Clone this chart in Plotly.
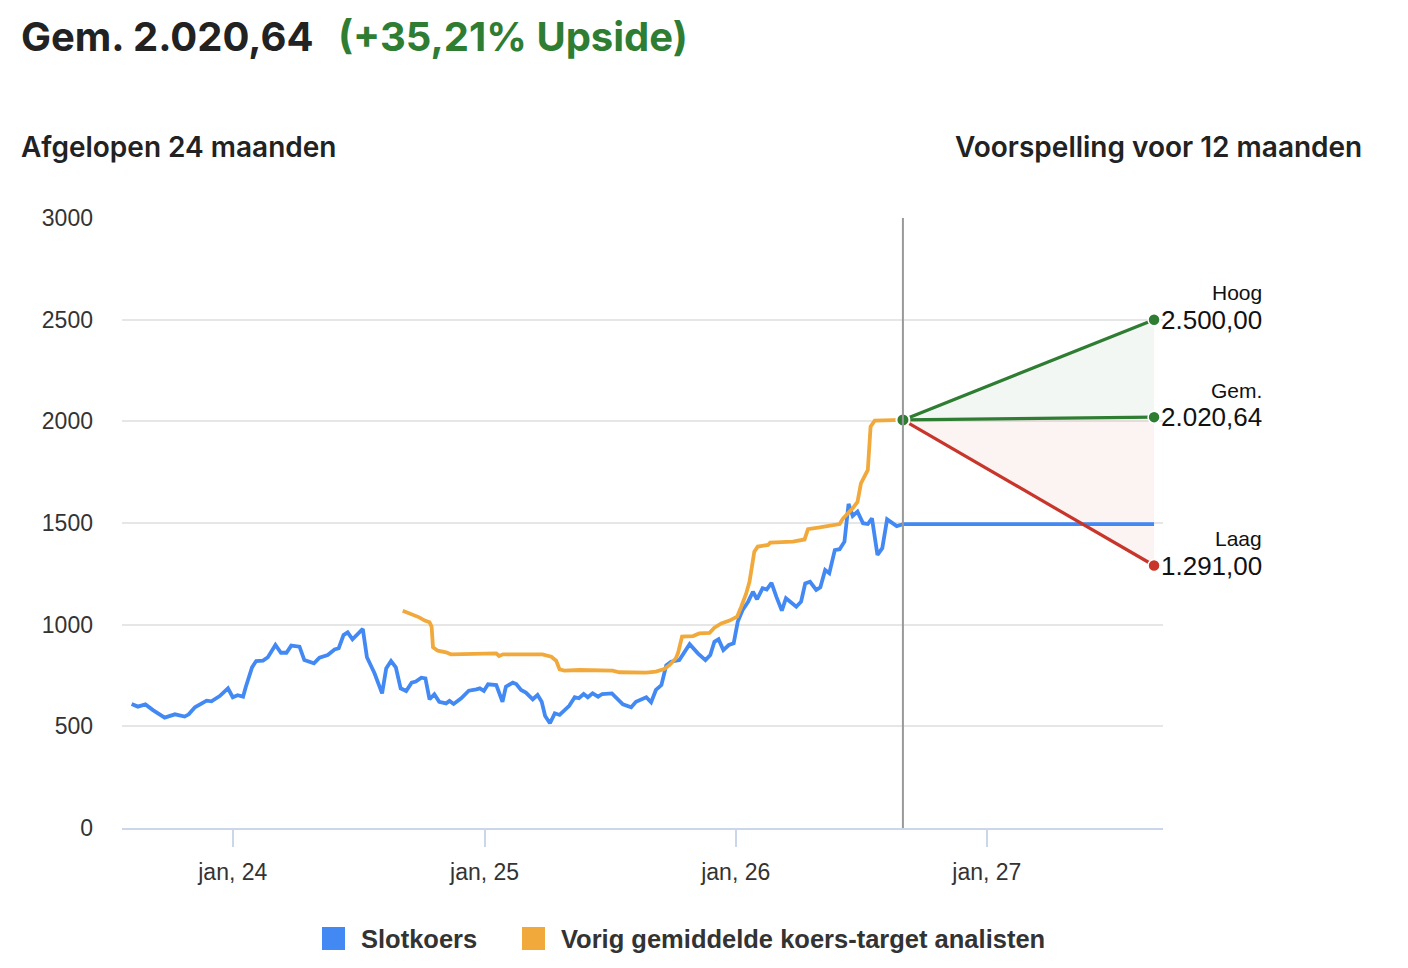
import plotly.graph_objects as go

# closing price (Slotkoers)
close_dates = [
    "2023-08-07", "2023-08-16", "2023-08-27", "2023-09-07", "2023-09-24", "2023-10-09", "2023-10-23",
    "2023-10-29", "2023-11-07", "2023-11-24", "2023-12-01", "2023-12-13", "2023-12-25",
    "2024-01-01", "2024-01-08", "2024-01-16", "2024-01-20", "2024-01-29", "2024-02-04", "2024-02-14",
    "2024-02-21", "2024-03-03", "2024-03-11", "2024-03-19", "2024-03-26", "2024-04-07", "2024-04-14",
    "2024-04-28", "2024-05-06", "2024-05-18", "2024-05-28", "2024-06-03", "2024-06-10", "2024-06-16",
    "2024-06-23", "2024-07-08", "2024-07-14", "2024-07-25", "2024-08-05", "2024-08-11", "2024-08-18",
    "2024-08-25", "2024-09-01", "2024-09-09", "2024-09-17", "2024-09-23", "2024-10-01", "2024-10-07",
    "2024-10-13", "2024-10-20", "2024-10-27", "2024-11-06", "2024-11-11", "2024-11-17", "2024-11-28",
    "2024-12-09", "2024-12-20", "2024-12-25", "2024-12-31",
    "2025-01-06", "2025-01-18", "2025-01-27", "2025-02-01", "2025-02-11", "2025-02-16", "2025-02-23",
    "2025-03-02", "2025-03-12", "2025-03-19", "2025-03-25", "2025-03-30", "2025-04-06", "2025-04-13",
    "2025-04-20", "2025-05-04", "2025-05-12", "2025-05-18", "2025-05-25", "2025-05-31", "2025-06-07",
    "2025-06-15", "2025-06-21", "2025-07-05", "2025-07-12", "2025-07-21", "2025-08-02", "2025-08-09",
    "2025-08-24", "2025-08-31", "2025-09-07", "2025-09-15", "2025-09-22", "2025-09-29", "2025-10-11",
    "2025-10-19", "2025-10-26", "2025-11-07", "2025-11-18", "2025-11-25", "2025-12-01", "2025-12-07",
    "2025-12-14", "2025-12-22", "2025-12-29",
    "2026-01-04", "2026-01-11", "2026-01-19", "2026-01-26", "2026-02-01", "2026-02-09", "2026-02-15",
    "2026-02-22", "2026-03-01", "2026-03-09", "2026-03-15", "2026-03-23", "2026-03-30", "2026-04-06",
    "2026-04-12", "2026-04-19", "2026-04-28", "2026-05-04", "2026-05-11", "2026-05-17", "2026-05-25",
    "2026-06-01", "2026-06-08", "2026-06-14", "2026-06-20", "2026-06-27", "2026-07-05", "2026-07-12",
    "2026-07-18", "2026-07-26", "2026-08-02", "2026-08-09", "2026-08-15", "2026-08-23", "2026-09-01",
]
close_values = [
    610, 597, 608, 580, 543, 559, 548, 559, 594, 626, 623, 649, 687,
    643, 653, 646, 695, 790, 821, 823, 840, 900, 862, 862, 897, 892, 826, 810, 838, 851, 878, 884,
    949, 962, 928, 979, 840, 761, 662, 785, 821, 790, 687, 674, 715, 720, 739, 736, 633, 658, 621,
    613, 625, 610, 638, 675, 682, 687, 674,
    707, 703, 621, 695, 715, 708, 679, 666, 633, 654, 621, 551, 515, 564, 556, 601, 643, 638, 659,
    643, 662, 646, 659, 662, 638, 608, 594, 621, 643, 618, 679, 703, 800, 818, 826, 867, 904, 859,
    826, 851, 916, 928, 875, 900, 908,
    1015, 1072, 1113, 1162, 1125, 1179, 1173, 1206, 1138, 1069, 1130, 1105, 1088, 1113, 1203, 1211,
    1171, 1184, 1269, 1253, 1367, 1371, 1408, 1594, 1535, 1556, 1499, 1495, 1523, 1343, 1376, 1518,
    1502, 1485, 1494,
]

# previous average analyst target
target_dates = [
    "2024-09-04", "2024-09-14", "2024-09-21", "2024-09-28", "2024-10-06", "2024-10-13", "2024-10-16",
    "2024-10-18", "2024-10-25", "2024-11-06", "2024-11-13", "2024-12-20", "2025-01-18", "2025-01-22",
    "2025-01-28", "2025-03-26", "2025-04-08", "2025-04-15", "2025-04-20", "2025-04-27", "2025-05-19",
    "2025-07-06", "2025-07-16", "2025-08-24", "2025-09-07", "2025-09-19", "2025-09-27", "2025-10-06",
    "2025-10-09", "2025-10-15", "2025-10-31", "2025-11-09", "2025-11-24", "2025-12-01", "2025-12-11",
    "2025-12-23", "2026-01-03", "2026-01-09", "2026-01-16", "2026-01-21", "2026-01-28", "2026-02-02",
    "2026-02-17", "2026-02-20", "2026-03-25", "2026-04-11", "2026-04-16", "2026-05-03", "2026-05-20",
    "2026-06-01", "2026-06-06", "2026-06-20", "2026-06-27", "2026-07-02", "2026-07-12", "2026-07-16",
    "2026-07-22", "2026-08-20", "2026-09-01",
]
target_values = [
    1069, 1056, 1043, 1036, 1020, 1012, 990, 889, 872, 864, 854, 856, 859, 846, 854, 854, 842, 823,
    780, 774, 777, 774, 766, 764, 769, 782, 802, 835, 859, 941, 944, 957, 960, 985, 1006, 1020, 1039,
    1088, 1151, 1211, 1359, 1384, 1392, 1403, 1408, 1419, 1470, 1478, 1486, 1495, 1523, 1572, 1604,
    1695, 1761, 1974, 2003, 2007, 2007,
]

# 12 month forecast
forecast_dates = ["2026-09-01", "2027-09-01"]
forecast_start = 2007
forecast_names = ["Hoog", "Gem.", "Laag"]
forecast_ends = [2500.00, 2020.64, 1291.00]
last_close = 1494

tick_dates = ["2024-01-01", "2025-01-01", "2026-01-01", "2027-01-01"]
tick_labels = ["jan, 24", "jan, 25", "jan, 26", "jan, 27"]

BLUE = "#4289f4"
ORANGE = "#f2a93b"
GREEN = "#2e7d32"
RED = "#c8362b"
DARK = "#222222"

# plot area as seen on the page (page has an 8px body margin)
OFF = 8
PL, PR, PT, PB = 122, 1163, 218, 828


def px(x):
    return (x - PL) / (PR - PL)


def py(y):
    return (PB - y) / (PB - PT)


def nl(v):
    return f"{v:,.2f}".replace(",", "X").replace(".", ",").replace("X", ".")


hoog, gem, laag = forecast_ends

fig = go.Figure()

# shaded areas
fig.add_trace(go.Scatter(x=forecast_dates, y=[forecast_start, gem], mode="lines",
                         line=dict(width=0), showlegend=False, hoverinfo="skip"))
fig.add_trace(go.Scatter(x=forecast_dates, y=[forecast_start, hoog], mode="lines",
                         line=dict(width=0), fill="tonexty", fillcolor="rgba(46,125,50,0.06)",
                         showlegend=False, hoverinfo="skip"))
fig.add_trace(go.Scatter(x=forecast_dates, y=[forecast_start, gem], mode="lines",
                         line=dict(width=0), showlegend=False, hoverinfo="skip"))
fig.add_trace(go.Scatter(x=forecast_dates, y=[forecast_start, laag], mode="lines",
                         line=dict(width=0), fill="tonexty", fillcolor="rgba(200,54,43,0.06)",
                         showlegend=False, hoverinfo="skip"))

fig.add_trace(go.Scatter(x=close_dates, y=close_values, mode="lines", name="Slotkoers",
                         line=dict(color=BLUE, width=3.8), showlegend=False))
fig.add_trace(go.Scatter(x=target_dates, y=target_values, mode="lines",
                         name="Vorig gemiddelde koers-target analisten",
                         line=dict(color=ORANGE, width=3.8), showlegend=False))
fig.add_trace(go.Scatter(x=forecast_dates, y=[last_close, last_close], mode="lines",
                         line=dict(color=BLUE, width=3.8), showlegend=False))

for name, end, col in zip(forecast_names, forecast_ends, [GREEN, GREEN, RED]):
    fig.add_trace(go.Scatter(x=forecast_dates, y=[forecast_start, end], mode="lines",
                             name=name, line=dict(color=col, width=3.2), showlegend=False))
    fig.add_trace(go.Scatter(x=forecast_dates[1:], y=[end], mode="markers",
                             marker=dict(size=12, color=col, line=dict(color="white", width=1.5)),
                             showlegend=False))
    fig.add_annotation(x=px(1264), y=end, xref="paper", yref="y", text=nl(end),
                       xanchor="right", yanchor="middle", showarrow=False,
                       font=dict(family="Liberation Sans", size=26, color="#111111"))
    fig.add_annotation(x=px(1264), y=end, xref="paper", yref="y", text=name, yshift=27,
                       xanchor="right", yanchor="middle", showarrow=False,
                       font=dict(family="Liberation Sans", size=21, color="#111111"))

fig.add_trace(go.Scatter(x=forecast_dates[:1], y=[forecast_start], mode="markers",
                         marker=dict(size=13, color=GREEN, line=dict(color="white", width=2)),
                         showlegend=False))

# today line
fig.add_shape(type="line", xref="x", yref="paper", x0=forecast_dates[0], x1=forecast_dates[0],
              y0=0, y1=1, line=dict(color="#999999", width=2))

# titles
fig.add_annotation(x=px(19), y=py(37), xref="paper", yref="paper", text="Gem. 2.020,64",
                   xanchor="left", yanchor="middle", showarrow=False,
                   font=dict(family="Inter", size=40, color=DARK, weight=700))
fig.add_annotation(x=px(336), y=py(37), xref="paper", yref="paper", text="(+35,21% Upside)",
                   xanchor="left", yanchor="middle", showarrow=False,
                   font=dict(family="Inter", size=40, color=GREEN, weight=700))
fig.add_annotation(x=px(19), y=py(147), xref="paper", yref="paper", text="Afgelopen 24 maanden",
                   xanchor="left", yanchor="middle", showarrow=False,
                   font=dict(family="Inter", size=28, color=DARK, weight=600))
fig.add_annotation(x=px(1364), y=py(147), xref="paper", yref="paper", text="Voorspelling voor 12 maanden",
                   xanchor="right", yanchor="middle", showarrow=False,
                   font=dict(family="Inter", size=28, color=DARK, weight=600))

# legend drawn by hand so the swatches can be large squares
legend_items = [("Slotkoers", BLUE, 322), ("Vorig gemiddelde koers-target analisten", ORANGE, 522)]
for label, col, x0 in legend_items:
    fig.add_shape(type="rect", xref="paper", yref="paper", x0=px(x0), x1=px(x0 + 23),
                  y0=py(950), y1=py(927), fillcolor=col, line=dict(width=0))
    fig.add_annotation(x=px(x0 + 37), y=py(939), xref="paper", yref="paper", text="<b>" + label + "</b>",
                       xanchor="left", yanchor="middle", showarrow=False,
                       font=dict(family="Liberation Sans", size=25.5, color="#333333"))

fig.update_layout(
    width=1408, height=968,
    margin=dict(l=PL - OFF, r=1408 - PR + OFF, t=PT - OFF, b=968 - PB + OFF),
    plot_bgcolor="white", paper_bgcolor="white",
    showlegend=False,
    xaxis=dict(type="date", range=["2023-07-24", "2027-09-14"],
               tickvals=tick_dates, ticktext=tick_labels,
               showgrid=False, zeroline=False,
               showline=True, linecolor="#ccd6eb", linewidth=2,
               ticks="outside", ticklen=17, tickwidth=1.5, tickcolor="#ccd6eb",
               ticklabelstandoff=5,
               tickfont=dict(family="Liberation Sans", size=23, color="#333333")),
    yaxis=dict(range=[0, 3000], tickvals=[0, 500, 1000, 1500, 2000, 2500, 3000],
               showgrid=True, gridcolor="#e6e6e6", gridwidth=1.5,
               zeroline=False, showline=False, ticks="",
               ticklabelstandoff=28,
               tickfont=dict(family="Liberation Sans", size=23, color="#333333")),
)

fig.write_html("out.html")
